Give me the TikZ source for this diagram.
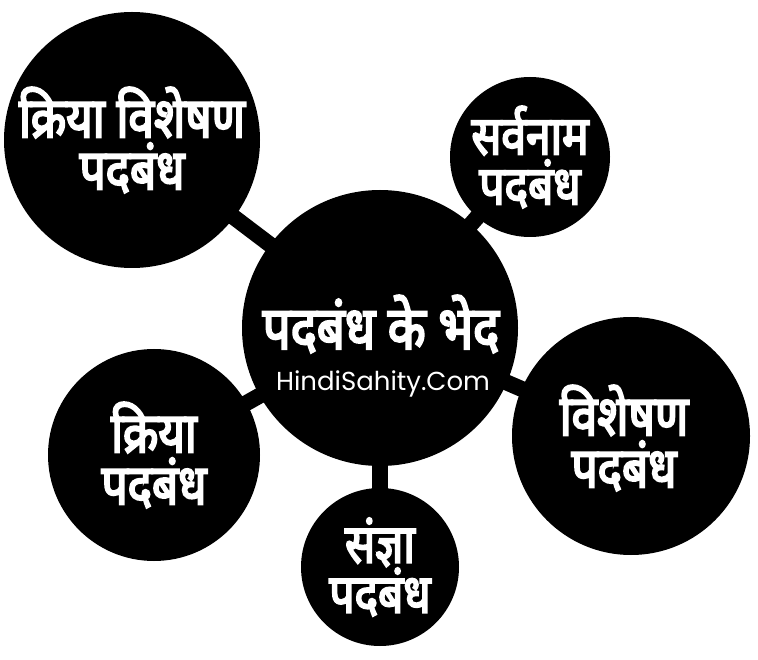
\documentclass[tikz,border=0pt]{standalone}
\usepackage{fontspec}
\newfontfamily\dev[Script=Devanagari,FakeBold=3.5,FakeStretch=0.82]{Noto Sans}
\newfontfamily\urlfont{Poppins}
\begin{document}
\begin{tikzpicture}[x=1pt,y=-1pt,
  bub/.style={circle,fill=black,text=white,inner sep=0pt,align=center},
  big/.style={font=\dev\fontsize{56}{52}\selectfont},
  small/.style={font=\dev\fontsize{54}{50}\selectfont},
  lbl/.style={text=white,align=center,inner sep=0pt},
  link/.style={line width=16pt,black,shorten <=-3pt,shorten >=-3pt}]
\useasboundingbox (0,0) rectangle (758,660);
\node[bub,minimum size=276pt] (c) at (380,328) {};
\node[bub,big,minimum size=256pt] (tl) at (132,140) {क्रिया विशेषण\\पदबंध};
\node[bub,small,minimum size=160pt] (tr) at (530,157) {सर्वनाम\\पदबंध};
\node[bub,minimum size=238pt] (r) at (631,436) {};
\node[lbl,big] (rt) at (624,438) {विशेषण\\पदबंध};
\node[bub,big,minimum size=212pt] (l) at (154,455) {क्रिया\\पदबंध};
\node[bub,small,minimum size=158pt] (b) at (380,567) {संज्ञा\\पदबंध};
\node[text=white,font=\dev\fontsize{60}{60}\selectfont] (title) at (381,324) {पदबंध के भेद};
\node[text=white,font=\urlfont\fontsize{26}{30}\selectfont] (url) at (383,384) {HindiSahity.Com};
\draw[link] (c) -- (tl);
\draw[link] (c) -- (tr);
\draw[link] (c) -- (r);
\draw[link] (c) -- (l);
\draw[link] (c) -- (b);
\end{tikzpicture}
\end{document}
